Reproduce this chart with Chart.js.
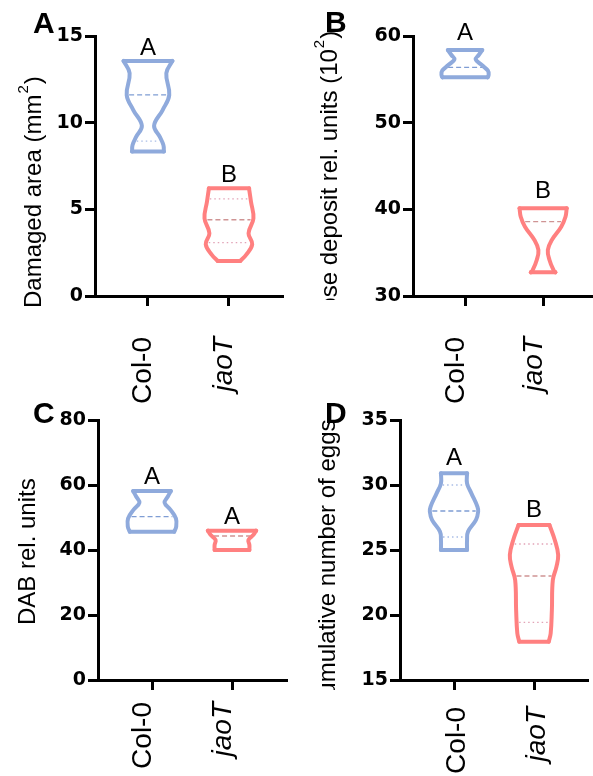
<!DOCTYPE html>
<html>
<head>
<meta charset="utf-8">
<script src="https://cdn.jsdelivr.net/npm/chart.js@4.4.1/dist/chart.umd.min.js"></script>
<style>
  html, body { margin: 0; padding: 0; background: #fff; width: 593px; height: 776px; overflow: hidden; }
  canvas { position: absolute; }
</style>
</head>
<body>
<canvas id="cA" width="300" height="412" style="left:0;top:0"></canvas>
<canvas id="cB" width="310" height="412" style="left:300px;top:0"></canvas>
<canvas id="cC" width="300" height="386" style="left:0;top:390px"></canvas>
<canvas id="cD" width="293" height="386" style="left:300px;top:390px"></canvas>
<script>
const groups = ['Col-0', 'jaoT'];

// A - damaged area (mm2): violin outline heights and relative density
const areaColY = [8.33, 8.71, 9.19, 9.83, 10.73, 11.6, 12.85, 13.56];
const areaColDens = [0.65, 0.63, 0.48, 0.25, 0.6, 0.87, 0.75, 1.0];
const areaJaoY = [2.02, 2.37, 2.98, 3.62, 4.48, 5.44, 6.21];
const areaJaoDens = [0.46, 0.7, 0.95, 0.8, 1.0, 0.9, 0.82];
const areaMedian = [11.6, 4.4];
const areaQ1 = [8.94, 3.08];
const areaQ3 = [13.48, 5.6];
const areaLetters = ['A', 'B'];

// B - callose deposit (10^2)
const callColY = [55.23, 55.5, 56.0, 56.65, 57.31, 57.81, 58.38];
const callColDens = [0.96, 1.0, 0.97, 0.71, 0.45, 0.58, 0.73];
const callJaoY = [32.73, 33.0, 34.15, 35.31, 36.46, 38.0, 39.15, 40.12];
const callJaoDens = [0.52, 0.44, 0.27, 0.2, 0.37, 0.77, 0.95, 1.0];
const callMedian = [56.38, 38.58];
const callLetters = ['A', 'B'];

// C - DAB
const dabColY = [45.64, 47.18, 49.74, 52.41, 54.56, 56.4, 58.15];
const dabColDens = [0.92, 1.0, 0.99, 0.76, 0.52, 0.65, 0.78];
const dabJaoY = [40.0, 41.54, 43.08, 44.6, 45.95];
const dabJaoDens = [0.72, 0.72, 0.68, 0.88, 1.0];
const dabMedian = [50.26, 44.31];
const dabLetters = ['A', 'A'];

// D - cumulative number of eggs
const eggColY = [25.0, 25.77, 26.41, 27.31, 27.95, 28.33, 29.36, 30.13, 30.9];
const eggColDens = [0.54, 0.54, 0.58, 0.91, 1.0, 0.97, 0.72, 0.54, 0.54];
const eggJaoY = [17.95, 18.59, 20.38, 22.69, 23.72, 24.62, 25.77, 26.92];
const eggJaoDens = [0.61, 0.69, 0.74, 0.78, 0.93, 1.0, 0.86, 0.64];
const eggMedian = [28, 23];
const eggQ1 = [26, 19.44];
const eggQ3 = [30, 25.46];
const eggLetters = ['A', 'B'];

const BLUE = '#8FAADC';
const RED = '#FF8080';
const FONT = "'Liberation Sans', Arial, sans-serif";
const TICKFONT = "'DejaVu Sans', sans-serif";
const HALF = 0.302; // widest half-width of a violin, in category units

Chart.defaults.font.family = FONT;
Chart.defaults.color = '#000';

// width of the outline at a given height (only used to end the median/quartile lines)
function widthAt(ys, ds, v) {
    for (let i = 1; i < ys.length; i++) {
        if (v <= ys[i]) {
            const t = (v - ys[i - 1]) / (ys[i] - ys[i - 1]);
            return ds[i - 1] + t * (ds[i] - ds[i - 1]);
        }
    }
    return ds[ds.length - 1];
}

function violinSets(cx, ys, ds, color, median, q1, q3) {
    const line = {
        showLine: true, pointRadius: 0, borderColor: color, borderWidth: 4,
        borderCapStyle: 'round', borderJoinStyle: 'round', fill: false
    };
    const n = ys.length;
    const sets = [
        {...line, tension: 0.4, data: ys.map((v, i) => ({x: cx + ds[i] * HALF, y: v}))},
        {...line, tension: 0.4, data: ys.map((v, i) => ({x: cx - ds[i] * HALF, y: v}))},
        {...line, data: [{x: cx - ds[n - 1] * HALF, y: ys[n - 1]}, {x: cx + ds[n - 1] * HALF, y: ys[n - 1]}]},
        {...line, data: [{x: cx - ds[0] * HALF, y: ys[0]}, {x: cx + ds[0] * HALF, y: ys[0]}]}
    ];
    const blue = color === BLUE;
    const guide = (v, dash, col) => {
        const hw = widthAt(ys, ds, v) * HALF - 0.03;
        return {
            showLine: true, pointRadius: 0, borderColor: col, borderWidth: 1.3, borderDash: dash,
            data: [{x: cx - hw, y: v}, {x: cx + hw, y: v}]
        };
    };
    if (median != null) sets.push(guide(median, [5, 3], blue ? '#7f9dd4' : '#cf9494'));
    if (q1 != null) sets.push(guide(q1, [1.5, 3], blue ? '#a9bde6' : '#e2a3b6'));
    if (q3 != null) sets.push(guide(q3, [1.5, 3], blue ? '#a9bde6' : '#e2a3b6'));
    return sets;
}

const panelText = {
    id: 'panelText',
    afterDraw(chart, args, o) {
        const {ctx} = chart;
        const y = chart.scales.y, x = chart.scales.x;
        ctx.save();
        ctx.fillStyle = '#000';
        ctx.textBaseline = 'alphabetic';

        // significance letters
        ctx.font = '24px ' + FONT;
        ctx.textAlign = 'center';
        o.letters.forEach((t, i) => {
            const top = Math.max(...o.tops[i]);
            ctx.fillText(t, x.getPixelForValue(i + 1), y.getPixelForValue(top) - o.letterGap);
        });

        // y title (with superscript), clipped like the original panel
        ctx.save();
        if (o.clipY) {
            ctx.beginPath();
            ctx.rect(0, 0, chart.width, o.clipY);
            ctx.clip();
        }
        ctx.translate(o.titleX, o.titleY);
        ctx.rotate(-Math.PI / 2);
        ctx.textAlign = 'left';
        ctx.font = '24px ' + FONT;
        ctx.fillText(o.title, 0, 0);
        let w = ctx.measureText(o.title).width;
        if (o.sup) {
            ctx.font = '15px ' + FONT;
            ctx.fillText(o.sup, w + 1, -13);
            w += ctx.measureText(o.sup).width + 2;
            ctx.font = '24px ' + FONT;
            ctx.fillText(')', w, 0);
        }
        ctx.restore();

        // panel letter
        ctx.font = 'bold 30px ' + FONT;
        ctx.textAlign = 'left';
        ctx.fillText(o.panel, o.panelX, o.panelY);
        ctx.restore();
    }
};

function makePanel(id, p) {
    const datasets = [];
    p.violins.forEach((v, i) => {
        datasets.push(...violinSets(i + 1, v.ys, v.ds, i === 0 ? BLUE : RED, v.median, v.q1, v.q3));
    });
    return new Chart(document.getElementById(id), {
        type: 'scatter',
        data: {datasets: datasets},
        plugins: [panelText],
        options: {
            responsive: false,
            animation: false,
            events: [],
            layout: {padding: {left: 0, top: p.padTop, right: p.padRight, bottom: 0}},
            plugins: {
                legend: {display: false},
                tooltip: {enabled: false},
                panelText: {
                    panel: p.panel, panelX: p.panelX, panelY: p.panelY,
                    title: p.title, sup: p.sup, titleX: p.titleX, titleY: p.titleY, clipY: p.clipY,
                    letters: p.letters, letterGap: p.letterGap, tops: p.violins.map(v => v.ys)
                }
            },
            scales: {
                x: {
                    type: 'linear', min: p.xMin, max: p.xMax,
                    border: {display: true, width: 3, color: '#000'},
                    grid: {drawOnChartArea: false, drawTicks: true, tickLength: 10, tickWidth: 3, tickColor: '#000'},
                    afterBuildTicks: s => { s.ticks = [{value: 1}, {value: 2}]; },
                    afterFit: s => { s.height = p.xHeight; },
                    ticks: {
                        minRotation: 90, maxRotation: 90, autoSkip: false,
                        padding: p.labelPad, labelOffset: p.labelShift, color: '#000',
                        font: c => ({family: FONT, size: 28, style: c.index === 1 ? 'italic' : 'normal'}),
                        callback: v => groups[v - 1] || ''
                    }
                },
                y: {
                    type: 'linear', min: p.yMin, max: p.yMax,
                    border: {display: true, width: 3, color: '#000'},
                    grid: {drawOnChartArea: false, drawTicks: true, tickLength: 10, tickWidth: 3, tickColor: '#000'},
                    afterFit: s => { s.width = p.yWidth; },
                    ticks: {stepSize: p.step, padding: 2, color: '#000', font: {family: TICKFONT, size: 19, weight: 'bold'}}
                }
            }
        }
    });
}

makePanel('cA', {
    yMin: 0, yMax: 15, step: 5, xMin: 0.346, xMax: 2.667,
    yWidth: 95, padTop: 36, padRight: 17, xHeight: 116, labelPad: 31, labelShift: -5,
    violins: [
        {ys: areaColY, ds: areaColDens, median: areaMedian[0], q1: areaQ1[0], q3: areaQ3[0]},
        {ys: areaJaoY, ds: areaJaoDens, median: areaMedian[1], q1: areaQ1[1], q3: areaQ3[1]}
    ],
    letters: areaLetters, letterGap: 6,
    panel: 'A', panelX: 33, panelY: 33,
    title: 'Damaged area (mm', sup: '2', titleX: 41, titleY: 308, clipY: null
});

makePanel('cB', {
    yMin: 30, yMax: 60, step: 10, xMin: 0.333, xMax: 2.667,
    yWidth: 113, padTop: 36, padRight: 8, xHeight: 116, labelPad: 31, labelShift: -9,
    violins: [
        {ys: callColY, ds: callColDens, median: callMedian[0]},
        {ys: callJaoY, ds: callJaoDens, median: callMedian[1]}
    ],
    letters: callLetters, letterGap: 10,
    panel: 'B', panelX: 25, panelY: 32,
    title: 'Callose deposit rel. units (10', sup: '2', titleX: 36.5, titleY: 352, clipY: 300
});

makePanel('cC', {
    yMin: 0, yMax: 80, step: 20, xMin: 0.325, xMax: 2.6875,
    yWidth: 98, padTop: 30, padRight: 13, xHeight: 96, labelPad: 12, labelShift: -9,
    violins: [
        {ys: dabColY, ds: dabColDens, median: dabMedian[0]},
        {ys: dabJaoY, ds: dabJaoDens, median: dabMedian[1]}
    ],
    letters: dabLetters, letterGap: 7,
    panel: 'C', panelX: 33, panelY: 33,
    title: 'DAB rel. units', titleX: 35, titleY: 235, clipY: null
});

makePanel('cD', {
    yMin: 15, yMax: 35, step: 5, xMin: 0.325, xMax: 2.675,
    yWidth: 100, padTop: 30, padRight: 5, xHeight: 96, labelPad: 17, labelShift: 3,
    violins: [
        {ys: eggColY, ds: eggColDens, median: eggMedian[0], q1: eggQ1[0], q3: eggQ3[0]},
        {ys: eggJaoY, ds: eggJaoDens, median: eggMedian[1], q1: eggQ1[1], q3: eggQ3[1]}
    ],
    letters: eggLetters, letterGap: 8,
    panel: 'D', panelX: 25, panelY: 33,
    title: 'Cumulative number of eggs', titleX: 35, titleY: 323, clipY: 300
});
</script>
</body>
</html>
